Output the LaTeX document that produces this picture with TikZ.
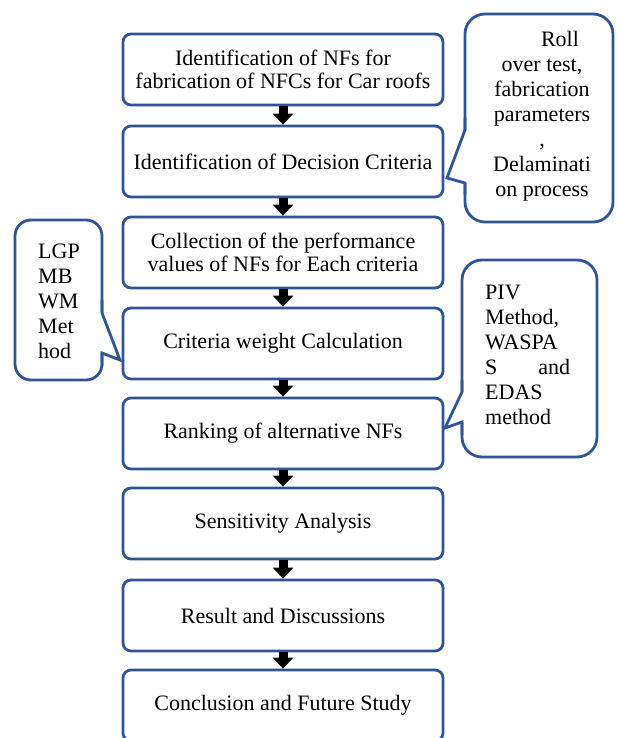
\documentclass[tikz,border=0pt]{standalone}
\usepackage{fontspec}
\setmainfont{Liberation Serif}
\usetikzlibrary{arrows.meta}
\definecolor{boxblue}{RGB}{47,85,151}
\tikzset{
  stepbox/.style={draw=boxblue, line width=2.8pt, rounded corners=8pt, fill=white,
    minimum width=320pt, minimum height=71pt, align=center, inner sep=2pt,
    font=\fontsize{22}{23}\selectfont},
  flowarrow/.style={draw=black, line width=9pt, -{Triangle[width=20pt,length=11pt]}},
  callout/.style={draw=boxblue, line width=2.8pt, fill=white},
  pointer/.style={draw=boxblue, line width=2.8pt, line join=miter},
  callouttext/.style={inner sep=0pt, font=\fontsize{22}{25}\selectfont}
}
\begin{document}
\begin{tikzpicture}[x=1pt,y=-1pt]
\useasboundingbox (0,0) rectangle (616,738);
\fill[white] (0,0) rectangle (616,738);

% main boxes
\node[stepbox] (b1) at (283,69.5) {Identification of NFs for\\fabrication of NFCs for Car roofs};
\node[stepbox] (b2) at (283,161.5) {Identification of Decision Criteria};
\node[stepbox] (b3) at (283,252.5) {Collection of the performance\\values of NFs for Each criteria};
\node[stepbox] (b4) at (283,343.5) {Criteria weight Calculation};
\node[stepbox] (b5) at (283,433.5) {Ranking of alternative NFs};
\node[stepbox] (b6) at (283,523.5) {Sensitivity Analysis};
\node[stepbox] (b7) at (283,615.5) {Result and Discussions};
\node[stepbox] (b8) at (283,705.5) {Conclusion and Future Study};

% arrows
\draw[flowarrow] (b1.south) -- (b2.north);
\draw[flowarrow] (b2.south) -- (b3.north);
\draw[flowarrow] (b3.south) -- (b4.north);
\draw[flowarrow] (b4.south) -- (b5.north);
\draw[flowarrow] (b5.south) -- (b6.north);
\draw[flowarrow] (b6.south) -- (b7.north);
\draw[flowarrow] (b7.south) -- (b8.north);

% callout 1 (top right)
\draw[callout, rounded corners=20pt] (465,14) rectangle (613,222);
\fill[white] (462,130) rectangle (468,183);
\draw[pointer] (465,118) -- (465,130) -- (447,178) -- (465,183) -- (465,195);
\node[callouttext, align=center] (c1) at (542,116)
  {\hspace*{36pt}Roll\\over test,\\fabrication\\parameters\\,\\Delaminati\\on process};

% callout 2 (left)
\draw[callout, rounded corners=16pt] (15,220) rectangle (102,380);
\fill[white] (99,313) rectangle (105,353);
\draw[pointer] (102,300) -- (102,313) -- (120,360) -- (102,353) -- (102,366);
\node[callouttext, align=left, anchor=west] (c2) at (38,301)
  {LGP\\MB\\WM\\Met\\hod};

% callout 3 (right middle)
\draw[callout, rounded corners=20pt] (462,260) rectangle (597,457);
\fill[white] (459,392) rectangle (465,422);
\draw[pointer] (462,380) -- (462,392) -- (445,428) -- (462,422) -- (462,435);
\node[callouttext, align=left, anchor=west] (c3) at (485,355)
  {PIV\\Method,\\WASPA\\\makebox[85pt][s]{S\hfill and}\\EDAS\\method};
\end{tikzpicture}
\end{document}
